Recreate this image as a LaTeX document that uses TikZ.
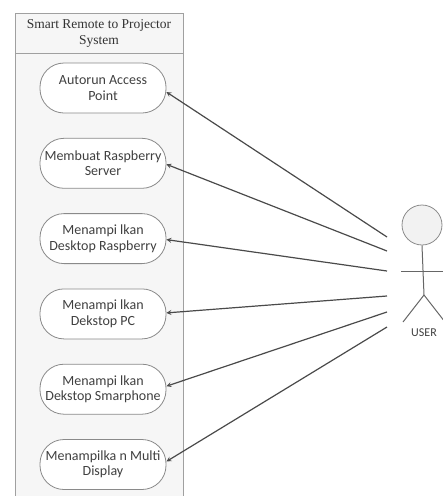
\documentclass[tikz,border=0pt]{standalone}
\usepackage{fontspec}
\setmainfont{Carlito}
\newfontfamily\titlefont{Liberation Serif}
\usetikzlibrary{shapes.geometric, arrows, positioning, fit, backgrounds}
\definecolor{boxfill}{HTML}{F6F6F6}
\definecolor{boxline}{HTML}{A0A0A0}
\definecolor{ucline}{HTML}{8A8A8A}
\definecolor{linkgray}{HTML}{4A4A4A}
\definecolor{headfill}{HTML}{F2F2F2}
\tikzstyle{system} = [rectangle, draw=boxline, fill=boxfill, line width=0.8pt]
\tikzstyle{usecase} = [rectangle, rounded corners=24pt, minimum width=126pt, minimum height=50pt, inner sep=1pt, align=center, draw=ucline, fill=white, line width=0.8pt, font=\fontsize{14}{15.5}\selectfont, text=black!75]
\tikzstyle{stick} = [draw=black!60, line width=1pt]
\tikzstyle{arrow} = [->,>=stealth, draw=linkgray, line width=1.2pt]

\begin{document}
\begin{tikzpicture}[x=1pt, y=1pt, node distance=24.5pt]
\useasboundingbox (0,0) rectangle (443,-496);

% --- System boundary ---
\draw [system] (15,-13) rectangle (183,-505);
\node (title) [minimum width=168pt, minimum height=40pt, inner sep=0pt, align=center, font=\titlefont\fontsize{13.5}{16}\selectfont, text=black!80] at (99,-33) {Smart Remote to Projector\\System};
\draw [draw=boxline, line width=0.8pt] (title.south west) -- (title.south east);

% --- Use cases ---
\node (uc1) [usecase] at (103,-88) {Autorun Access\\Point};
\node (uc2) [usecase, below=of uc1] {Membuat Raspberry\\Server};
\node (uc3) [usecase, below=of uc2] {Menampi lkan\\Desktop Raspberry};
\node (uc4) [usecase, below=of uc3] {Menampi lkan\\Dekstop PC};
\node (uc5) [usecase, below=of uc4] {Menampi lkan\\Dekstop Smarphone};
\node (uc6) [usecase, below=of uc5] {Menampilka n Multi\\Display};

% --- Actor ---
\node (head) [circle, minimum size=40pt, inner sep=0pt, draw=black!45, fill=headfill, line width=0.8pt] at (422,-225) {};
\coordinate (hip) at (424,-295);
\draw [stick] (head.south) -- (hip);
\draw [stick] (401,-271) -- (447,-271);
\draw [stick] (hip) -- (403,-322);
\draw [stick] (hip) -- (445,-322);
\node (user) [font=\fontsize{12}{14}\selectfont, text=black!75] at (424,-333) {USER};

% --- Arrows ---
\coordinate (a1) at (387,-237);
\coordinate (a2) at (387,-251);
\coordinate (a3) at (387,-271);
\coordinate (a4) at (387,-296);
\coordinate (a5) at (387,-312);
\coordinate (a6) at (387,-327);
\draw [arrow] (a1) -- ([yshift=-4pt]uc1.east);
\draw [arrow] (a2) -- ([yshift=-1pt]uc2.east);
\draw [arrow] (a3) -- ([yshift=-1pt]uc3.east);
\draw [arrow] (a4) -- ([yshift=1pt]uc4.east);
\draw [arrow] (a5) -- ([yshift=3pt]uc5.east);
\draw [arrow] (a6) -- ([yshift=3pt]uc6.east);

\end{tikzpicture}
\end{document}
